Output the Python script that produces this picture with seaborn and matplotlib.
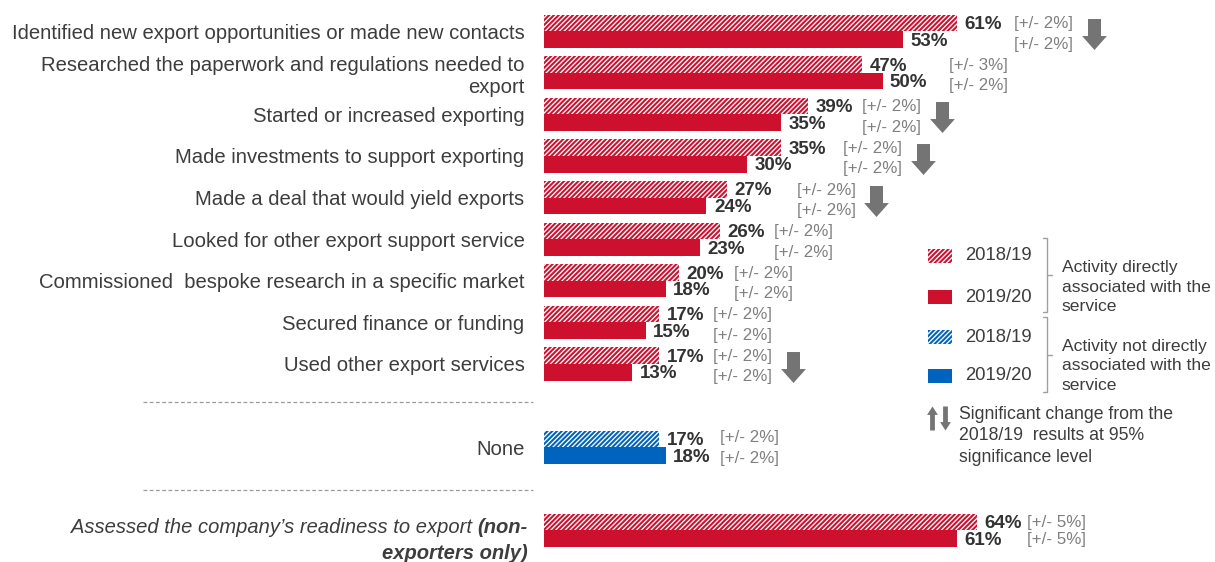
import numpy as np
import pandas as pd
import matplotlib
matplotlib.use("Agg")
import matplotlib.pyplot as plt
from matplotlib.patches import Rectangle
from matplotlib.lines import Line2D
from matplotlib.path import Path
import seaborn as sns

# ---------------- data ----------------
activities = [
    "Identified new export opportunities or made new contacts",
    "Researched the paperwork and regulations needed to\nexport",
    "Started or increased exporting",
    "Made investments to support exporting",
    "Made a deal that would yield exports",
    "Looked for other export support service",
    "Commissioned  bespoke research in a specific market",
    "Secured finance or funding",
    "Used other export services",
    "None",
    "Assessed the company\u2019s readiness to export (non-exporters only)",
]
association = ["direct"] * 9 + ["indirect", "direct"]
years = ["2018/19", "2019/20"]
share_1819 = [61, 47, 39, 35, 27, 26, 20, 17, 17, 17, 64]
share_1920 = [53, 50, 35, 30, 24, 23, 18, 15, 13, 18, 61]
moe_1819 = [2, 3, 2, 2, 2, 2, 2, 2, 2, 2, 5]
moe_1920 = [2, 2, 2, 2, 2, 2, 2, 2, 2, 2, 5]
sig_down = [True, False, True, True, True, False, False, False, True, False, False]

# ---------------- layout ----------------
row_pos = [0, 1, 2, 3, 4, 5, 6, 7, 8, 10, 12]
moe_nudge = [0.4, 1.8, 0, 1.2, 2.3, 0, 0, 0, 0, 0, -0.6]
moe_dy = [(0.02, 0.11)] * 9 + [(-0.03, 0.06), (0.0, 0.02)]

W, H = 1215, 562
X0 = 544            # pixel column of the bar baseline
PX_PER_PCT = 6.77
Y_ROW0 = 31.2
ROW_PX = 41.6

RED = "#CD102E"
BLUE = "#0063BE"
TXT = "#3d3d3d"
NUM = "#333333"
MOE = "#808080"
ARROW_GREY = "#747474"
HATCH = "///////"

sns.set_style("white")
plt.rcParams["font.family"] = ["Liberation Sans", "DejaVu Sans"]
plt.rcParams["hatch.linewidth"] = 0.95

fig = plt.figure(figsize=(W / 100, H / 100), dpi=100)
ax = fig.add_axes([X0 / W, 0, 1 - X0 / W, 1])

df = pd.DataFrame({
    "pos": row_pos * 2,
    "year": [years[0]] * len(row_pos) + [years[1]] * len(row_pos),
    "share": share_1819 + share_1920,
})

sns.barplot(data=df, x="share", y="pos", hue="year", hue_order=years,
            orient="y", native_scale=True, palette=[RED, RED], saturation=1,
            errorbar=None, width=0.8, legend=False, linewidth=0, ax=ax)

ax.set_xlim(0, (W - X0) / PX_PER_PCT)
ax.set_ylim((H - Y_ROW0) / ROW_PX, -Y_ROW0 / ROW_PX)

# colour / hatch each bar by series and association
for container, year in zip(ax.containers, years):
    for bar in container:
        yc = bar.get_y() + bar.get_height() / 2
        idx = int(np.argmin([abs(yc - p) for p in row_pos]))
        col = BLUE if association[idx] == "indirect" else RED
        bar.set_facecolor(col)
        bar.set_linewidth(0)
        if year == years[0]:
            bar.set_edgecolor("white")
            bar.set_hatch(HATCH)
        else:
            bar.set_edgecolor(col)

for s in ax.spines.values():
    s.set_visible(False)
ax.set_xticks([])
ax.set_xlabel("")
ax.set_ylabel("")

# category labels
ax.set_yticks(row_pos[:10])
ax.set_yticklabels(activities[:10], fontsize=14.6, color=TXT)
ax.tick_params(axis="y", length=0, pad=14)

lab_x = -16 / PX_PER_PCT
t_bold = ax.text(lab_x, 12 - 0.06, "(non-", ha="right", va="center",
                 fontsize=14.5, color=TXT, style="italic", fontweight="bold")
ax.annotate("Assessed the company\u2019s readiness to export ", xy=(0, 0.5),
            xycoords=t_bold, ha="right", va="center", fontsize=14.5,
            color=TXT, style="italic")
ax.text(lab_x, 12 + 0.55, "exporters only)", ha="right", va="center",
        fontsize=14.5, color=TXT, style="italic", fontweight="bold")

# separators
for ysep in (8.92, 11.03):
    ax.plot([(143 - X0) / PX_PER_PCT, (533 - X0) / PX_PER_PCT], [ysep, ysep],
            ls=(0, (3, 2)), color="#9a9a9a", lw=0.9, clip_on=False)

# arrow marker shapes
ARROW_DOWN = Path([(-0.42, 1), (0.42, 1), (0.42, -0.1), (0.8, -0.1), (0, -1),
                   (-0.8, -0.1), (-0.42, -0.1), (-0.42, 1)], closed=True)
THIN_DOWN = Path([(-0.2, 1), (0.2, 1), (0.2, -0.3), (0.45, -0.3), (0, -1),
                  (-0.45, -0.3), (-0.2, -0.3), (-0.2, 1)], closed=True)
THIN_UP = Path([(x, -y) for x, y in THIN_DOWN.vertices], closed=True)

# value labels, margins of error and significance arrows
for i, p in enumerate(row_pos):
    y1, y2 = p - 0.2, p + 0.2
    v1, v2 = share_1819[i], share_1920[i]
    ax.text(v1 + 1.1, y1 + 0.04, f"{v1}%", ha="left", va="center",
            fontsize=13.5, fontweight="bold", color=NUM)
    ax.text(v2 + 1.1, y2 + 0.04, f"{v2}%", ha="left", va="center",
            fontsize=13.5, fontweight="bold", color=NUM)
    ex = max(v1, v2) + 8 + moe_nudge[i]
    d1, d2 = moe_dy[i]
    ax.text(ex, y1 + d1, f"[+/- {moe_1819[i]}%]", ha="left", va="center",
            fontsize=12.2, color=MOE)
    ax.text(ex, y2 + d2, f"[+/- {moe_1920[i]}%]", ha="left", va="center",
            fontsize=12.2, color=MOE)
    if sig_down[i]:
        ax.plot(ex + 11.8, p + 0.07, marker=ARROW_DOWN, ms=22.3, mew=0,
                color=ARROW_GREY, clip_on=False)

# ---------------- key ----------------
def fx(x):
    return x / W


def fy(y):
    return 1 - y / H


key_items = [(256, RED, True), (297, RED, False), (337, BLUE, True), (376, BLUE, False)]
for yc, col, hatched in key_items:
    rect = Rectangle((fx(928), fy(yc + 7)), 24 / W, 14 / H, transform=fig.transFigure,
                     facecolor=col, edgecolor="white" if hatched else col,
                     hatch=HATCH if hatched else None, lw=0)
    fig.add_artist(rect)
    fig.text(fx(965), fy(yc), years[0] if hatched else years[1], ha="left",
             va="center", fontsize=13.3, color=TXT)

for top, bot, mid in ((238, 312, 275), (317, 392, 355)):
    xs = [1043, 1047, 1047, 1043]
    ys = [top, top, bot, bot]
    fig.add_artist(Line2D([fx(x) for x in xs], [fy(y) for y in ys],
                          transform=fig.transFigure, color="#a0a0a0", lw=1))
    fig.add_artist(Line2D([fx(1047), fx(1052)], [fy(mid), fy(mid)],
                          transform=fig.transFigure, color="#a0a0a0", lw=1))

fig.text(fx(1062), fy(287), "Activity directly\nassociated with the\nservice",
         ha="left", va="center", fontsize=12.6, color=TXT, linespacing=1.4)
fig.text(fx(1062), fy(366), "Activity not directly\nassociated with the\nservice",
         ha="left", va="center", fontsize=12.6, color=TXT, linespacing=1.4)

fig.add_artist(Line2D([fx(932)], [fy(418)], marker=THIN_UP, ms=17.3, mew=0,
                      color=ARROW_GREY, transform=fig.transFigure))
fig.add_artist(Line2D([fx(945)], [fy(418)], marker=THIN_DOWN, ms=17.3, mew=0,
                      color=ARROW_GREY, transform=fig.transFigure))
fig.text(fx(959), fy(436),
         "Significant change from the\n2018/19  results at 95%\nsignificance level",
         ha="left", va="center", fontsize=12.7, color=TXT, linespacing=1.32)

fig.savefig("out.png", dpi=100)
